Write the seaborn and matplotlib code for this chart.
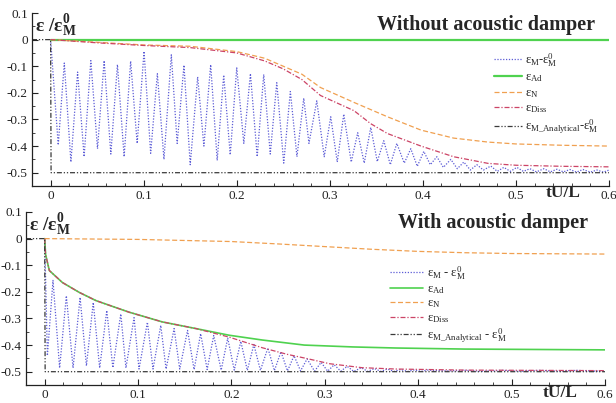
import numpy as np
import pandas as pd
import matplotlib
matplotlib.use("Agg")
import matplotlib.pyplot as plt
from matplotlib.ticker import MultipleLocator
import seaborn as sns

sns.set_style("ticks")
plt.rcParams['font.family'] = ['Liberation Serif', 'DejaVu Serif']
plt.rcParams['mathtext.fontset'] = 'custom'
plt.rcParams['mathtext.rm'] = 'Liberation Serif'
plt.rcParams['mathtext.it'] = 'Liberation Serif:italic'
plt.rcParams['mathtext.bf'] = 'Liberation Serif:bold'

# ---------------- Top panel: without acoustic damper ----------------
top_blue_t = [0.0, 0.0082, 0.0147, 0.0218, 0.029, 0.036, 0.0432, 0.0504, 0.0575, 0.0647,
              0.0718, 0.079, 0.086, 0.093, 0.1004, 0.1075, 0.1147, 0.1218, 0.1297, 0.136,
              0.1433, 0.150, 0.158, 0.1647, 0.172, 0.179, 0.186, 0.193, 0.200, 0.2076,
              0.2147, 0.222, 0.229, 0.236, 0.243, 0.2505, 0.2576, 0.2647, 0.272, 0.2776,
              0.286, 0.294, 0.301, 0.308, 0.315, 0.323, 0.330, 0.337, 0.344, 0.351,
              0.358, 0.365, 0.372, 0.380, 0.387, 0.394, 0.401, 0.408, 0.415, 0.422,
              0.430, 0.437, 0.444, 0.451, 0.458, 0.465, 0.473, 0.480, 0.487, 0.494,
              0.501, 0.508, 0.515, 0.522, 0.530, 0.537, 0.544, 0.551, 0.558, 0.565,
              0.572, 0.580, 0.587, 0.594, 0.600]
top_blue_v = [0.0, -0.396, -0.088, -0.46, -0.122, -0.44, -0.079, -0.41, -0.079, -0.43,
              -0.094, -0.44, -0.081, -0.39, -0.044, -0.427, -0.128, -0.45, -0.057, -0.39,
              -0.096, -0.47, -0.14, -0.40, -0.094, -0.454, -0.133, -0.433, -0.106, -0.39,
              -0.128, -0.44, -0.131, -0.43, -0.162, -0.464, -0.195, -0.44, -0.22, -0.39,
              -0.23, -0.44, -0.29, -0.46, -0.28, -0.46, -0.35, -0.464, -0.33, -0.458,
              -0.38, -0.47, -0.39, -0.464, -0.41, -0.476, -0.42, -0.47, -0.44, -0.48,
              -0.45, -0.485, -0.46, -0.49, -0.47, -0.49, -0.475, -0.495, -0.48, -0.495,
              -0.48, -0.495, -0.485, -0.497, -0.485, -0.497, -0.487, -0.497, -0.488, -0.498,
              -0.488, -0.498, -0.49, -0.498, -0.49]

top_ad_t = [0.0, 0.6]
top_ad_v = [0.0, 0.0]

top_n_t = [0.0, 0.05, 0.1, 0.15, 0.2, 0.23, 0.25, 0.27, 0.29, 0.326, 0.362, 0.398, 0.433, 0.47, 0.5, 0.55, 0.6]
top_n_v = [0.0, -0.01, -0.02, -0.025, -0.045, -0.07, -0.10, -0.13, -0.18, -0.236, -0.29, -0.34, -0.37, -0.385, -0.392, -0.397, -0.40]

top_diss_t = [0.0, 0.05, 0.1, 0.15, 0.2, 0.23, 0.25, 0.27, 0.29, 0.326, 0.344, 0.362, 0.398, 0.433, 0.47, 0.5, 0.55, 0.6]
top_diss_v = [0.0, -0.012, -0.022, -0.03, -0.05, -0.08, -0.11, -0.15, -0.21, -0.267, -0.316, -0.353, -0.40, -0.44, -0.465, -0.472, -0.476, -0.478]

anal_t = [-0.02, 0.0, 0.0005, 0.6]
anal_v = [0.0, 0.0, -0.5, -0.5]

# ---------------- Bottom panel: with acoustic damper ----------------
bot_blue_t = [0.0, 0.0029, 0.0089, 0.016, 0.0232, 0.0304, 0.0379, 0.0447, 0.052, 0.0589,
              0.0665, 0.073, 0.0815, 0.087, 0.0957, 0.101, 0.110, 0.116, 0.1243, 0.130,
              0.1386, 0.1446, 0.153, 0.160, 0.167, 0.174, 0.181, 0.189, 0.196, 0.203,
              0.210, 0.217, 0.224, 0.231, 0.239, 0.246, 0.253, 0.260, 0.267, 0.274,
              0.281, 0.289, 0.296, 0.303, 0.310, 0.317, 0.324, 0.331, 0.339, 0.346,
              0.353, 0.360, 0.367, 0.374, 0.381, 0.389, 0.396, 0.403, 0.410, 0.430,
              0.450, 0.470, 0.490, 0.510, 0.530, 0.550, 0.570, 0.590, 0.600]
bot_blue_v = [0.0, -0.44, -0.157, -0.486, -0.215, -0.486, -0.221, -0.478, -0.24, -0.486,
              -0.27, -0.485, -0.283, -0.486, -0.297, -0.49, -0.314, -0.49, -0.326, -0.49,
              -0.338, -0.49, -0.345, -0.492, -0.357, -0.492, -0.364, -0.494, -0.374, -0.494,
              -0.386, -0.495, -0.398, -0.495, -0.411, -0.496, -0.425, -0.497, -0.44, -0.497,
              -0.452, -0.498, -0.465, -0.498, -0.474, -0.498, -0.48, -0.499, -0.485, -0.499,
              -0.488, -0.499, -0.49, -0.499, -0.492, -0.499, -0.493, -0.499, -0.494, -0.497,
              -0.495, -0.498, -0.495, -0.498, -0.495, -0.498, -0.495, -0.498, -0.496]

bot_ad_t = [0.0, 0.001, 0.005, 0.019, 0.037, 0.055, 0.09, 0.126, 0.162, 0.1975, 0.233, 0.278, 0.33, 0.376, 0.45, 0.6]
bot_ad_v = [0.0, -0.06, -0.12, -0.165, -0.202, -0.233, -0.276, -0.313, -0.338, -0.363, -0.381, -0.40, -0.407, -0.411, -0.415, -0.418]

bot_n_t = [0.0, 0.1, 0.2, 0.25, 0.3, 0.35, 0.4, 0.45, 0.5, 0.6]
bot_n_v = [0.0, -0.003, -0.011, -0.02, -0.03, -0.04, -0.048, -0.053, -0.056, -0.058]

bot_diss_t = [0.0, 0.001, 0.005, 0.019, 0.037, 0.055, 0.09, 0.126, 0.162, 0.1975, 0.233, 0.26, 0.28, 0.305, 0.34, 0.376, 0.45, 0.6]
bot_diss_v = [0.0, -0.06, -0.12, -0.165, -0.202, -0.233, -0.276, -0.313, -0.338, -0.37, -0.41, -0.435, -0.45, -0.47, -0.485, -0.49, -0.494, -0.496]

top_labels = ['ε$_\\mathrm{M}$-ε$_\\mathrm{M}^\\mathrm{0}$', 'ε$_\\mathrm{Ad}$', 'ε$_\\mathrm{N}$',
              'ε$_\\mathrm{Diss}$', 'ε$_\\mathrm{M\\_Analytical}$-ε$_\\mathrm{M}^\\mathrm{0}$']
bot_labels = ['ε$_\\mathrm{M}$ - ε$_\\mathrm{M}^\\mathrm{0}$', 'ε$_\\mathrm{Ad}$', 'ε$_\\mathrm{N}$',
              'ε$_\\mathrm{Diss}$', 'ε$_\\mathrm{M\\_Analytical}$ - ε$_\\mathrm{M}^\\mathrm{0}$']

C_BLUE = '#5c5cd6'
C_GREEN = '#4fd24f'
C_ORANGE = '#f0a050'
C_RED = '#cc4466'
C_ANAL = '#3a3a3a'

fig = plt.figure(figsize=(6.16, 4.03), dpi=100)
ax1 = fig.add_axes([32/616, 1-186/403, 577/616, 173/403])
ax2 = fig.add_axes([26/616, 1-385/403, 579/616, 173/403])

def draw(ax, blue, ad, n, diss, labels, lw_green):
    sns.lineplot(x=blue[0], y=blue[1], ax=ax, color=C_BLUE, lw=0.9, linestyle=(0, (1, 1.3)),
                 label=labels[0], estimator=None, sort=False)
    sns.lineplot(x=ad[0], y=ad[1], ax=ax, color=C_GREEN, lw=lw_green, linestyle='-',
                 label=labels[1], estimator=None, sort=False)
    sns.lineplot(x=n[0], y=n[1], ax=ax, color=C_ORANGE, lw=0.9, linestyle=(0, (4, 2)),
                 label=labels[2], estimator=None, sort=False)
    sns.lineplot(x=diss[0], y=diss[1], ax=ax, color=C_RED, lw=0.9, linestyle=(0, (4, 1.5, 1, 1.5)),
                 label=labels[3], estimator=None, sort=False)
    sns.lineplot(x=anal_t, y=anal_v, ax=ax, color=C_ANAL, lw=0.9,
                 linestyle=(0, (4, 1.5, 1, 1.5, 1, 1.5)),
                 label=labels[4], estimator=None, sort=False)
    ax.set_xlim(-0.02, 0.6)
    ax.set_ylim(-0.55, 0.1)
    ax.xaxis.set_minor_locator(MultipleLocator(0.02))
    ax.yaxis.set_minor_locator(MultipleLocator(0.05))
    ax.set_xticks([0, 0.1, 0.2, 0.3, 0.4, 0.5, 0.6])
    ax.set_xticklabels(['0', '0.1', '0.2', '0.3', '0.4', '0.5', '0.6'])
    ax.set_yticks([0.1, 0, -0.1, -0.2, -0.3, -0.4, -0.5])
    ax.set_yticklabels(['0.1', '0', '-0.1', '-0.2', '-0.3', '-0.4', '-0.5'])
    ax.tick_params(axis='both', which='major', direction='in', length=4, width=0.8,
                   labelsize=9.5, pad=3, colors='#222222')
    ax.tick_params(axis='both', which='minor', direction='in', length=2, width=0.6)
    ax.set_xlabel('')
    ax.set_ylabel('')
    for s in ['top', 'right']:
        ax.spines[s].set_visible(False)
    for s in ['left', 'bottom']:
        ax.spines[s].set_linewidth(0.9)
        ax.spines[s].set_color('#222222')
    ax.text(0.006, 1.0, 'ε /ε$_\\mathbf{M}^\\mathbf{0}$', transform=ax.transAxes,
            fontsize=14, fontweight='bold', ha='left', va='top')

draw(ax1, (top_blue_t, top_blue_v), (top_ad_t, top_ad_v), (top_n_t, top_n_v),
     (top_diss_t, top_diss_v), top_labels, 1.6)
draw(ax2, (bot_blue_t, bot_blue_v), (bot_ad_t, bot_ad_v), (bot_n_t, bot_n_v),
     (bot_diss_t, bot_diss_v), bot_labels, 1.2)

ax1.legend(loc='upper left', bbox_to_anchor=((489-32)/577, (186-46)/173),
           frameon=False, fontsize=9, handlelength=2.2, handletextpad=0.3,
           labelspacing=0.22, borderaxespad=0)
ax2.legend(loc='upper left', bbox_to_anchor=((385-26)/579, (385-259)/173),
           frameon=False, fontsize=9, handlelength=2.6, handletextpad=0.35,
           labelspacing=0.13, borderaxespad=0)

fig.text(595/616, 1-25/403, 'Without acoustic damper', fontsize=14.5, fontweight='bold',
         ha='right', va='center')
fig.text(588/616, 1-223/403, 'With acoustic damper', fontsize=14.5, fontweight='bold',
         ha='right', va='center')
fig.text(563/616, 1-193/403, 'tU/L', fontsize=12.5, fontweight='bold', ha='center', va='center')
fig.text(560/616, 1-393/403, 'tU/L', fontsize=12.5, fontweight='bold', ha='center', va='center')

fig.savefig('out.png', dpi=100, facecolor='white')
